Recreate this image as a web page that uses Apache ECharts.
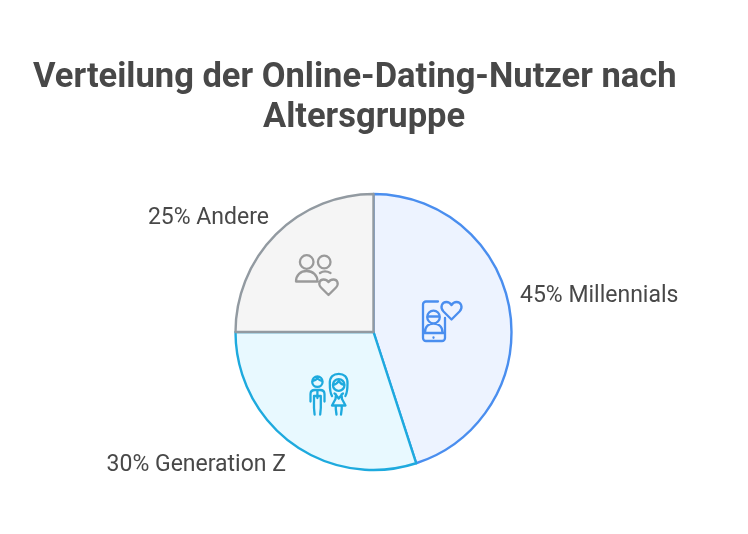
<!DOCTYPE html>
<html lang="de">
<head>
    <meta charset="UTF-8">
    <title>Verteilung der Online-Dating-Nutzer nach Altersgruppe</title>
    <script src="https://cdn.jsdelivr.net/npm/echarts@6/dist/echarts.min.js"></script>
    <style>
        html,body{
            height:100%;
            width:100%;
            margin:0;
            padding:0;
            background:#fff;
        }
    </style>
</head>

<body>
    <div id="main" style="width:748px;height:534px"></div>
    <script>
        const titleLines = ['Verteilung der Online-Dating-Nutzer nach', 'Altersgruppe'];
        const groups = ['Millennials', 'Generation Z', 'Andere'];
        const shares = [45, 30, 25];
        const fills = ['#edf3ff', '#e8f9ff', '#f5f5f5'];
        const strokes = ['#4a8eef', '#1eaade', '#929aa1'];
        const iconColors = ['#4a8eef', '#1eaade', '#9a9a9a'];
        const textColor = '#484848';

        // label anchors, the source places them by hand
        const labelSpots = [
            { x: 520, y: 296, align: 'left' },
            { x: 286, y: 465, align: 'right' },
            { x: 269, y: 218, align: 'right' }
        ];

        const phoneIcon = 'M438 301.5H426a3 3 0 0 0-3 3V338a3 3 0 0 0 3 3H442a3 3 0 0 0 3-3V318'
            + 'M423 333H445M433.5 337.5V337.8'
            + 'M439.8 317a6.3 6.3 0 1 1-12.6 0a6.3 6.3 0 1 1 12.6 0M427.4 316.5H439.6'
            + 'M425 332.5C425 326 429 323.5 433.5 323.5S442.5 326 442.5 332.5'
            + 'M451.5 319.5L443.5 311.5C439.5 307 442 302 446.5 302C449 302 450.5 303.5 451.5 305'
            + 'C452.5 303.5 454 302 456.5 302C461 302 463.5 307 459.5 311.5Z';

        const coupleIcon = 'M322.6 381.7a5.2 5.2 0 1 1-10.4 0a5.2 5.2 0 1 1 10.4 0M312.4 381C315 380.5 316.5 379.5 317.4 378.5C318.5 379.5 320 380.5 322.4 381'
            + 'M310.5 401.5V394C310.5 391.5 312.5 390 315 390H320C322.5 390 324.5 391.5 324.5 394V401.5'
            + 'M317.4 390V398M314 396V408L314.6 414.5M320.8 396V408L320.2 414.5M314 396H320.8'
            + 'M332 396C330 393 329.8 390 329.8 383C329.8 377 333.5 373.8 338.7 373.8'
            + 'C344 373.8 347.5 377 347.5 383C347.5 390 347.2 393 345.4 396'
            + 'M344.5 385a5.8 5.8 0 1 1-11.6 0a5.8 5.8 0 1 1 11.6 0'
            + 'M333 385C335.5 384.5 337.5 383 338.7 381C340 383 342 384.5 344.5 385'
            + 'M334.5 393.5L336 394.5L335.5 399L332 405.5H345.5L342 399L341.5 394.5L343 393.5'
            + 'M336 395L338.7 398.5L341.5 395'
            + 'M335.8 405.5V409L336.5 414.5M341.7 405.5V409L341 414.5';

        const friendsIcon = 'M313.5 262a6.8 6.8 0 1 1-13.6 0a6.8 6.8 0 1 1 13.6 0'
            + 'M296 281.5C296 275 300.5 271 306.7 271S317.5 275 317.5 281.5Z'
            + 'M330.5 262a6.3 6.3 0 1 1-12.6 0a6.3 6.3 0 1 1 12.6 0M320 273C323 271 327 271 330.5 273'
            + 'M328.5 295L321 287.5C317.5 283.5 320 279.5 323.5 279.5C326 279.5 327.5 280.5 328.5 282'
            + 'C329.5 280.5 331 279.5 333.5 279.5C337 279.5 339.5 283.5 336 287.5Z';

        const icons = [phoneIcon, coupleIcon, friendsIcon];

        let myChart = echarts.init(document.getElementById('main'));
        let titleStyle = { fontFamily: 'Roboto', fontWeight: 'bold', fontSize: 34.5, color: textColor };

        let option = {
            animation: false,
            backgroundColor: '#fff',
            title: [
                { text: titleLines[0], left: 33, top: 61, padding: 0, textStyle: titleStyle },
                { text: titleLines[1], left: 263, top: 101, padding: 0, textStyle: titleStyle }
            ],
            series: [{
                type: 'pie',
                center: [373.5, 332],
                radius: [0, 138],
                startAngle: 90,
                clockwise: true,
                silent: true,
                z: 1,
                data: groups.map(function (g, i) {
                    return {
                        name: g,
                        value: shares[i],
                        itemStyle: { color: fills[i], borderColor: strokes[i], borderWidth: 2.4 }
                    };
                }),
                label: {
                    show: true,
                    position: 'outside',
                    fontFamily: 'Roboto',
                    fontSize: 23,
                    color: textColor,
                    formatter: function (p) { return p.value + '% ' + p.name; }
                },
                labelLine: { show: false },
                labelLayout: function (p) {
                    let spot = labelSpots[p.dataIndex];
                    return { x: spot.x, y: spot.y, align: spot.align, verticalAlign: 'middle' };
                }
            }, {
                // the three small pictograms inside the slices
                type: 'custom',
                coordinateSystem: 'none',
                silent: true,
                z: 2,
                data: [0, 1, 2],
                renderItem: function (params) {
                    return {
                        type: 'path',
                        shape: { pathData: icons[params.dataIndex] },
                        style: {
                            fill: 'none',
                            stroke: iconColors[params.dataIndex],
                            lineWidth: 2.3,
                            lineCap: 'round',
                            lineJoin: 'round'
                        }
                    };
                }
            }]
        };

        myChart.setOption(option);
    </script>
</body>

</html>
